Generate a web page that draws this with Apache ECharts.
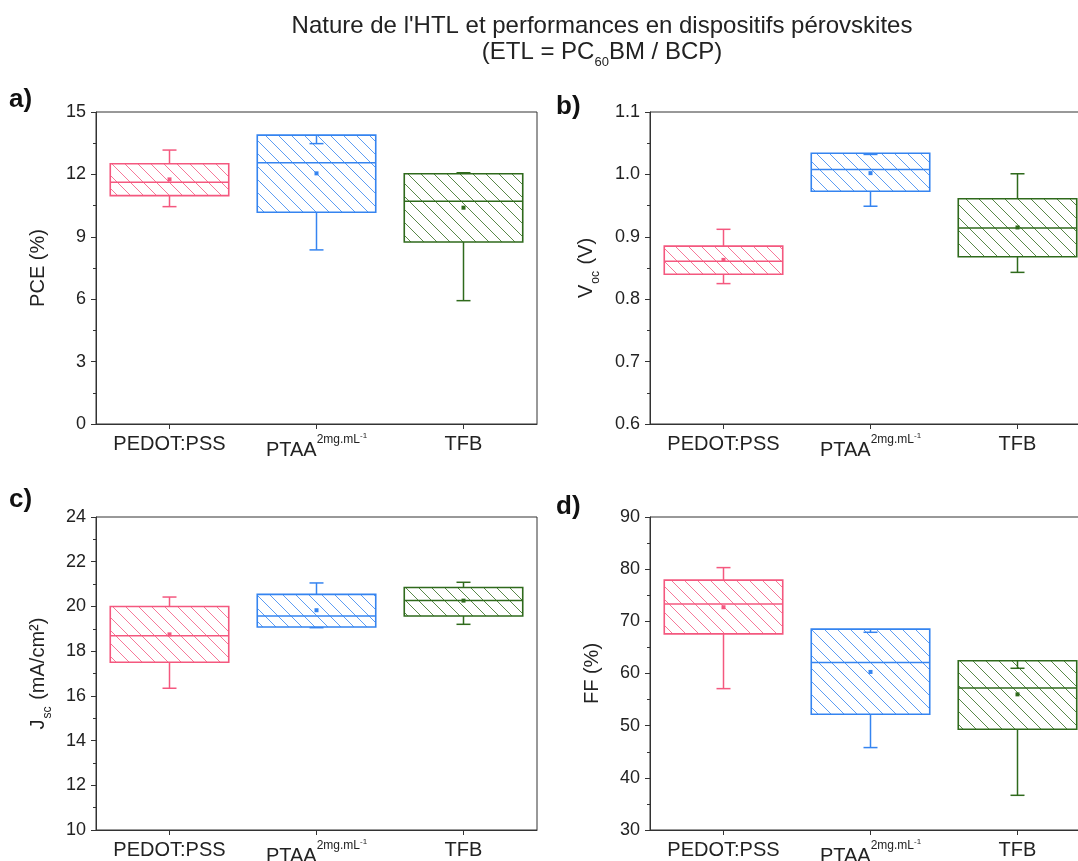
<!DOCTYPE html>
<html>
<head>
<meta charset="utf-8">
<script src="https://cdn.jsdelivr.net/npm/echarts@6/dist/echarts.min.js"></script>
<style>
html,body{margin:0;padding:0;background:#fff;}
#chart{width:1078px;height:861px;}
</style>
</head>
<body>
<div id="chart"></div>
<script>
// ---- data ----
var categories = ['PEDOT:PSS', 'PTAA', 'TFB'];
// each row: [whisker min, Q1, median, Q3, whisker max, mean]
var pceStats = [[10.45, 10.98, 11.62, 12.51, 13.17, 11.76],
                [8.37, 10.18, 12.56, 13.89, 13.48, 12.05],
                [5.93, 8.75, 10.71, 12.03, 12.08, 10.40]];
var vocStats = [[0.825, 0.840, 0.861, 0.885, 0.912, 0.863],
                [0.949, 0.973, 1.008, 1.034, 1.032, 1.002],
                [0.843, 0.868, 0.914, 0.961, 1.001, 0.915]];
var jscStats = [[16.34, 17.50, 18.69, 20.00, 20.42, 18.75],
                [19.05, 19.08, 19.57, 20.54, 21.05, 19.83],
                [19.20, 19.57, 20.26, 20.85, 21.08, 20.26]];
var ffStats  = [[57.1, 67.6, 73.3, 77.9, 80.3, 72.7],
                [45.8, 52.2, 62.1, 68.5, 67.9, 60.3],
                [36.65, 49.3, 57.2, 62.45, 61.0, 56.0]];
var pceTicks = [0, 15, 3];
var vocTicks = [0.6, 1.1, 0.1];
var jscTicks = [10, 24, 2];
var ffTicks  = [30, 90, 10];

var colors = ['#f4587f', '#3584f0', '#2f6a1c'];
var FONT = 'Liberation Sans, Arial, sans-serif';

function hatch(color) {
  var s = 13;
  var cv = document.createElement('canvas');
  cv.width = s; cv.height = s;
  var ctx = cv.getContext('2d');
  ctx.strokeStyle = color;
  ctx.globalAlpha = 0.8;
  ctx.lineWidth = 1;
  [-s, 0, s].forEach(function (o) {
    ctx.beginPath(); ctx.moveTo(o, 0); ctx.lineTo(o + s, s); ctx.stroke();
  });
  return { image: cv, repeat: 'repeat' };
}
var patterns = colors.map(hatch);

function renderBox(params, api) {
  var idx = api.value(0);
  var mn = api.value(1), q1 = api.value(2), md = api.value(3), q3 = api.value(4), mx = api.value(5), mean = api.value(6);
  var cx = api.coord([idx, md])[0];
  var bw = api.size([1, 0])[0] * 0.806;
  var y = function (v) { return api.coord([idx, v])[1]; };
  var col = colors[idx];
  var capW = 14;
  var ls = { stroke: col, lineWidth: 1.5 };
  return {
    type: 'group',
    children: [
      { type: 'rect', shape: { x: cx - bw / 2, y: y(q3), width: bw, height: y(q1) - y(q3) },
        style: { fill: patterns[idx], stroke: col, lineWidth: 1.6 } },
      { type: 'line', shape: { x1: cx - bw / 2, y1: y(md), x2: cx + bw / 2, y2: y(md) }, style: ls },
      { type: 'line', shape: { x1: cx, y1: y(q3), x2: cx, y2: y(mx) }, style: ls },
      { type: 'line', shape: { x1: cx - capW / 2, y1: y(mx), x2: cx + capW / 2, y2: y(mx) }, style: ls },
      { type: 'line', shape: { x1: cx, y1: y(q1), x2: cx, y2: y(mn) }, style: ls },
      { type: 'line', shape: { x1: cx - capW / 2, y1: y(mn), x2: cx + capW / 2, y2: y(mn) }, style: ls },
      { type: 'rect', shape: { x: cx - 2, y: y(mean) - 2, width: 4, height: 4 }, style: { fill: col } }
    ]
  };
}

var grids = [
  { left: 96, top: 112, width: 441, height: 312 },
  { left: 650, top: 112, width: 441, height: 312 },
  { left: 96, top: 517, width: 441, height: 313 },
  { left: 650, top: 517, width: 441, height: 313 }
];
grids.forEach(function (g) {
  g.show = true; g.borderColor = '#333'; g.borderWidth = 1;
  g.containLabel = false; g.outerBoundsMode = 'none';
});

function xAxisFor(i) {
  return {
    type: 'category', gridIndex: i, data: categories,
    axisLine: { lineStyle: { color: '#333', width: 1 } },
    axisTick: { show: true, alignWithLabel: true, inside: false, length: 5, lineStyle: { color: '#333' } },
    splitLine: { show: false },
    axisLabel: {
      interval: 0, hideOverlap: false,
      margin: 8, color: '#222', fontFamily: FONT, fontSize: 20,
      formatter: function (v) {
        if (v === 'PTAA') return '{m|PTAA}{s|2mg.mL}{t|-1}';
        return '{n|' + v + '}';
      },
      rich: {
        n: { fontSize: 20, fontFamily: FONT, color: '#222', lineHeight: 24 },
        m: { fontSize: 20, fontFamily: FONT, color: '#222', lineHeight: 28, verticalAlign: 'bottom' },
        s: { fontSize: 12, fontFamily: FONT, color: '#222', lineHeight: 14, verticalAlign: 'top', padding: [2, 0, 0, 0] },
        t: { fontSize: 8, fontFamily: FONT, color: '#222', lineHeight: 10, verticalAlign: 'top', padding: [0, 0, 0, 0] }
      }
    }
  };
}

function yAxisFor(i, ticks, name, gap, dec) {
  return {
    type: 'value', gridIndex: i, min: ticks[0], max: ticks[1], interval: ticks[2],
    name: name, nameLocation: 'middle', nameGap: gap, nameRotate: 90,
    nameTextStyle: {
      fontFamily: FONT, fontSize: 20, color: '#222',
      rich: {
        n: { fontFamily: FONT, fontSize: 20, color: '#222', lineHeight: 24, verticalAlign: 'top' },
        s: { fontFamily: FONT, fontSize: 12, color: '#222', lineHeight: 12, verticalAlign: 'top', padding: [14, 1, 0, 1] }
      }
    },
    axisLine: { show: true, lineStyle: { color: '#333', width: 1 } },
    axisTick: { show: true, inside: false, length: 5, lineStyle: { color: '#333' } },
    minorTick: { show: true, splitNumber: 2, length: 3, lineStyle: { color: '#333' } },
    splitLine: { show: false },
    minorSplitLine: { show: false },
    axisLabel: {
      margin: 10, color: '#222', fontFamily: FONT, fontSize: 18,
      formatter: function (v) { return dec ? v.toFixed(dec) : String(Math.round(v)); }
    }
  };
}

function seriesFor(i, stats) {
  return {
    type: 'custom', xAxisIndex: i, yAxisIndex: i,
    renderItem: renderBox,
    encode: { x: 0, y: [1, 2, 3, 4, 5] },
    data: stats.map(function (s, k) { return [k].concat(s); }),
    silent: true, clip: false
  };
}

var chart = echarts.init(document.getElementById('chart'), null, { renderer: 'canvas' });
chart.setOption({
  animation: false,
  backgroundColor: '#fff',
  title: [
    { text: "Nature de l'HTL et performances en dispositifs pérovskites", left: 597, top: 9, textAlign: 'center',
      textStyle: { fontFamily: FONT, fontSize: 24, fontWeight: 'normal', color: '#222' } },
    { text: '{n|(ETL = PC}{s|60}{n|BM / BCP)}', left: 597, top: 35, textAlign: 'center',
      textStyle: { fontFamily: FONT, fontSize: 24, fontWeight: 'normal', color: '#222',
        rich: {
          n: { fontFamily: FONT, fontSize: 24, color: '#222', lineHeight: 26, verticalAlign: 'top' },
          s: { fontFamily: FONT, fontSize: 13, color: '#222', lineHeight: 13, verticalAlign: 'top', padding: [16, 0, 0, 0] }
        } } }
  ],
  graphic: [
    { type: 'text', left: 9, top: 87, style: { text: 'a)', font: 'bold 26px ' + FONT, fill: '#111' } },
    { type: 'text', left: 556, top: 94, style: { text: 'b)', font: 'bold 26px ' + FONT, fill: '#111' } },
    { type: 'text', left: 9, top: 487, style: { text: 'c)', font: 'bold 26px ' + FONT, fill: '#111' } },
    { type: 'text', left: 556, top: 494, style: { text: 'd)', font: 'bold 26px ' + FONT, fill: '#111' } }
  ],
  grid: grids,
  xAxis: [xAxisFor(0), xAxisFor(1), xAxisFor(2), xAxisFor(3)],
  yAxis: [
    yAxisFor(0, pceTicks, '{n|PCE (%)}', 44, 0),
    yAxisFor(1, vocTicks, '{n|V}{s|oc}{n| (V)}', 50, 1),
    yAxisFor(2, jscTicks, '{n|J}{s|sc}{n| (mA/cm²)}', 44, 0),
    yAxisFor(3, ffTicks, '{n|FF (%)}', 44, 0)
  ],
  series: [seriesFor(0, pceStats), seriesFor(1, vocStats), seriesFor(2, jscStats), seriesFor(3, ffStats)]
});
</script>
</body>
</html>
